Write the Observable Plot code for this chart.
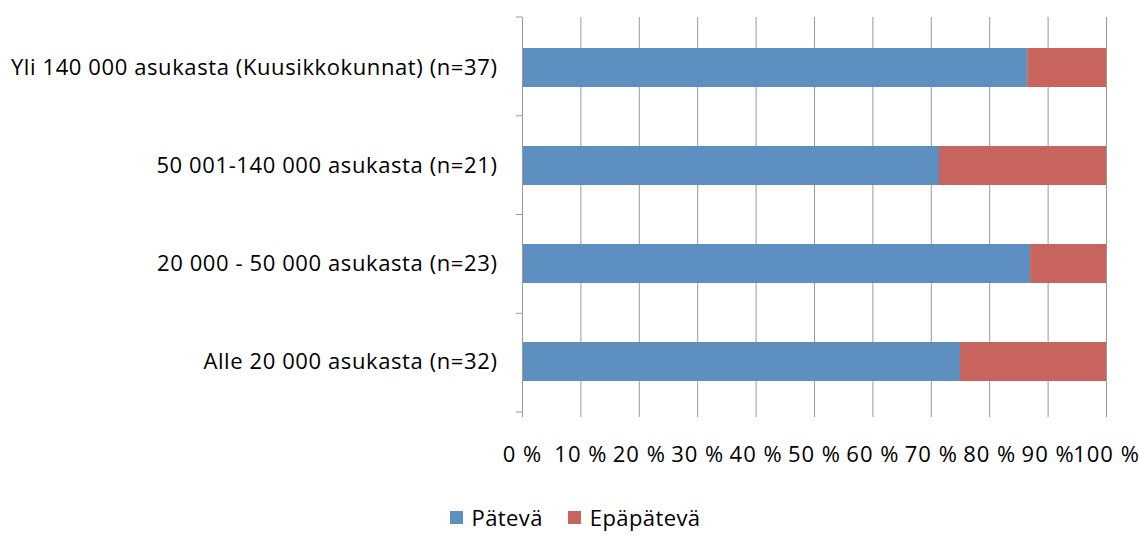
<!DOCTYPE html>
<html>
<head>
<meta charset="utf-8">
<script src="https://cdn.jsdelivr.net/npm/d3@7"></script>
<script src="https://cdn.jsdelivr.net/npm/@observablehq/plot@0.6"></script>
<style>
  html, body { margin: 0; padding: 0; background: #fff; }
  body { width: 1140px; height: 535px; overflow: hidden; font-family: "Open Sans", sans-serif; }
  #legend { position: absolute; left: 0; top: 503px; width: 1140px; display: flex; justify-content: center; gap: 25px; font-size: 22px; letter-spacing: 0.4px; color: #000; padding-left: 10px; box-sizing: border-box; line-height: 28px; }
  #legend span.item { display: inline-flex; align-items: center; gap: 9px; }
  #legend span.sw { width: 13px; height: 13px; display: inline-block; }
  svg text { letter-spacing: 0.6px; }
  svg g[aria-label="x-axis tick label"] text { letter-spacing: 1px; }
</style>
</head>
<body>
<div id="chart"></div>
<div id="legend"></div>
<script>
const categories = [
  "Yli 140 000 asukasta (Kuusikkokunnat) (n=37)",
  "50 001-140 000 asukasta (n=21)",
  "20 000 - 50 000 asukasta (n=23)",
  "Alle 20 000 asukasta (n=32)"
];
const seriesNames = ["Pätevä", "Epäpätevä"];
const patevaValues = [86.5, 71.4, 87.0, 75.0];
const epapatevaValues = [13.5, 28.6, 13.0, 25.0];
const xTicks = [0, 10, 20, 30, 40, 50, 60, 70, 80, 90, 100];
const colors = ["#5E8FC1", "#C7645E"];

const data = [];
categories.forEach((c, i) => {
  data.push({category: c, series: seriesNames[0], value: patevaValues[i]});
  data.push({category: c, series: seriesNames[1], value: epapatevaValues[i]});
});

const W = 1140, H = 500, mT = 17, mB = 88, mL = 522, mR = 34;
const gridColor = "#999999";

const plot = Plot.plot({
  width: W,
  height: H,
  marginTop: mT,
  marginBottom: mB,
  marginLeft: mL,
  marginRight: mR,
  style: {fontFamily: "Open Sans, sans-serif", fontSize: "22px", color: "#000", background: "#fff", overflow: "visible"},
  x: {domain: [0, 100], ticks: xTicks, label: null},
  y: {domain: categories, paddingInner: 0.6, paddingOuter: 0.3, label: null},
  color: {domain: seriesNames, range: colors},
  marks: [
    Plot.gridX(xTicks, {stroke: gridColor, strokeOpacity: 1, strokeWidth: 1}),
    Plot.barX(data, {x: "value", y: "category", fill: "series"}),
    Plot.axisX(xTicks, {tickFormat: d => d + " %", tickSize: 5, tickPadding: 29, stroke: gridColor, fontSize: 22, label: null}),
    Plot.axisY({tickSize: 0, tickPadding: 25, fontSize: 22, label: null}),
    Plot.ruleX([0], {stroke: gridColor}),
    Plot.ruleY([0], {stroke: gridColor})
  ]
});

// band boundary ticks on the y axis, derived from the y scale
const ys = plot.scale("y");
const xs = plot.scale("x");
const svg = d3.select(plot);
const yScale = d3.scaleBand().domain(ys.domain).range(ys.range).paddingInner(ys.paddingInner).paddingOuter(ys.paddingOuter);
const step = yScale.step();
const x0 = d3.scaleLinear().domain(xs.domain).range(xs.range)(0);
const bounds = categories.map(c => yScale(c) + yScale.bandwidth() / 2 - step / 2);
bounds.push(yScale(categories[categories.length - 1]) + yScale.bandwidth() / 2 + step / 2);
const g = svg.append("g").attr("stroke", gridColor);
bounds.forEach(b => {
  g.append("line").attr("x1", x0 - 6).attr("x2", x0).attr("y1", b).attr("y2", b);
});

document.getElementById("chart").appendChild(plot);

const legend = document.getElementById("legend");
seriesNames.forEach((s, i) => {
  const item = document.createElement("span");
  item.className = "item";
  item.innerHTML = `<span class="sw" style="background:${colors[i]}"></span><span>${s}</span>`;
  legend.appendChild(item);
});
</script>
</body>
</html>
